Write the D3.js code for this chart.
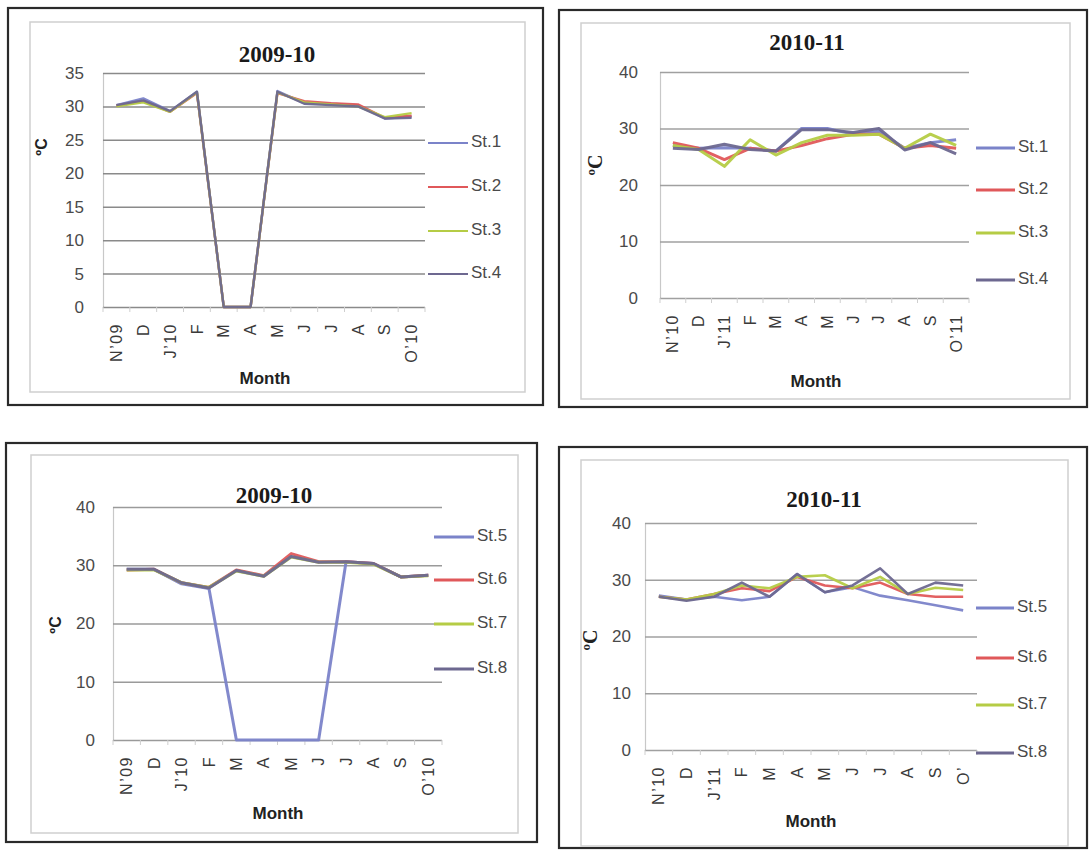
<!DOCTYPE html>
<html>
<head>
<meta charset="utf-8">
<script src="https://cdn.jsdelivr.net/npm/d3@7/dist/d3.min.js"></script>
<style>
  html, body { margin: 0; padding: 0; background: #ffffff; }
  svg { display: block; }
</style>
</head>
<body>
<svg id="chart" width="1089" height="850"></svg>
<script>
// ---------------- DATA ----------------
const months0910 = ["N’09", "D", "J’10", "F", "M", "A", "M", "J", "J", "A", "S", "O’10"];
const months1011 = ["N’10", "D", "J’11", "F", "M", "A", "M", "J", "J", "A", "S", "O’11"];
const months1011b = ["N’10", "D", "J’11", "F", "M", "A", "M", "J", "J", "A", "S", "O’"];

const stationsA = ["St.1", "St.2", "St.3", "St.4"];
const stationsB = ["St.5", "St.6", "St.7", "St.8"];

// 2009-10, stations 1-4 (°C)
const st1_0910 = [30.2, 31.2, 29.3, 32.2, 0, 0, 32.3, 30.5, 30.4, 30.2, 28.2, 28.5];
const st2_0910 = [30.1, 30.8, 29.2, 32.0, 0, 0, 32.0, 30.8, 30.5, 30.3, 28.3, 28.6];
const st3_0910 = [30.0, 30.6, 29.2, 32.1, 0, 0, 32.1, 30.6, 30.3, 30.0, 28.4, 29.0];
const st4_0910 = [30.2, 30.9, 29.3, 32.2, 0, 0, 32.2, 30.4, 30.2, 30.0, 28.2, 28.3];

// 2010-11, stations 1-4
const st1_1011 = [27.0, 26.5, 26.6, 26.5, 26.0, 30.0, 30.0, 29.0, 29.5, 26.5, 27.5, 28.0];
const st2_1011 = [27.5, 26.5, 24.5, 26.5, 26.0, 27.0, 28.2, 29.0, 29.0, 26.5, 27.0, 26.5];
const st3_1011 = [27.0, 26.3, 23.3, 28.0, 25.3, 27.5, 28.8, 28.8, 29.0, 26.5, 29.0, 27.0];
const st4_1011 = [26.5, 26.3, 27.2, 26.3, 26.0, 29.8, 29.8, 29.3, 30.0, 26.2, 27.5, 25.5];

// 2009-10, stations 5-8
const st5_0910 = [29.3, 29.3, 26.8, 26.0, 0, 0, 0, 0, 30.6, 30.3, 28.0, 28.3];
const st6_0910 = [29.2, 29.3, 27.0, 26.2, 29.2, 28.2, 32.0, 30.6, 30.6, 30.3, 28.0, 28.3];
const st7_0910 = [29.2, 29.2, 27.0, 26.2, 29.0, 28.1, 31.4, 30.5, 30.5, 30.2, 28.0, 28.2];
const st8_0910 = [29.3, 29.3, 27.0, 26.1, 29.1, 28.1, 31.5, 30.5, 30.6, 30.3, 28.0, 28.3];

// 2010-11, stations 5-8
const st5_1011 = [27.2, 26.5, 27.0, 26.4, 27.0, 31.0, 27.8, 28.7, 27.2, 26.4, 25.5, 24.6];
const st6_1011 = [27.0, 26.5, 27.5, 28.5, 28.0, 30.5, 29.0, 28.5, 29.5, 27.5, 27.0, 27.0];
const st7_1011 = [27.0, 26.5, 27.5, 29.0, 28.5, 30.5, 30.8, 28.5, 30.5, 27.5, 28.6, 28.2];
const st8_1011 = [27.0, 26.3, 27.0, 29.5, 27.0, 31.0, 27.8, 29.0, 32.0, 27.5, 29.5, 29.0];

const yTicks35 = [0, 5, 10, 15, 20, 25, 30, 35];
const yTicks40 = [0, 10, 20, 30, 40];

// ---------------- STYLE / LAYOUT ----------------
const colors = ["#7b83c9", "#e0585a", "#b5cc45", "#6d6890"];

const panels = [
  {
    title: "2009-10", labels: months0910, names: stationsA,
    series: [st1_0910, st2_0910, st3_0910, st4_0910],
    ticks: yTicks35, yMax: 35,
    outer: [8, 8, 543, 405], inner: [30, 22, 525, 392],
    x0: 103, x1: 425, yTop: 73, yBot: 307,
    tickRight: 84, titleX: 277, titleY: 57,
    ylabX: 43, ylabY: 147, ylabFont: "sans",
    legLine: [428, 468], legText: 471, legY: [143, 187, 231, 274],
    monthX: 265, monthY: 380, lineW: 2.4, legW: 2.2, gridColor: "#8a8a8a"
  },
  {
    title: "2010-11", labels: months1011, names: stationsA,
    series: [st1_1011, st2_1011, st3_1011, st4_1011],
    ticks: yTicks40, yMax: 40,
    outer: [559, 10, 1087, 407], inner: [581, 23, 1070, 399],
    x0: 660, x1: 969, yTop: 72, yBot: 298,
    tickRight: 638, titleX: 807, titleY: 45,
    ylabX: 597, ylabY: 165, ylabFont: "serif",
    legLine: [976, 1015], legText: 1018, legY: [148, 190, 233, 280],
    monthX: 816, monthY: 383, lineW: 3, legW: 3, gridColor: "#a0a0a0"
  },
  {
    title: "2009-10", labels: months0910, names: stationsB,
    series: [st5_0910, st6_0910, st7_0910, st8_0910],
    ticks: yTicks40, yMax: 40,
    outer: [6, 443, 537, 842], inner: [31, 455, 518, 833],
    x0: 113, x1: 442, yTop: 507, yBot: 740,
    tickRight: 95, titleX: 274, titleY: 498,
    ylabX: 57, ylabY: 625, ylabFont: "sans",
    legLine: [434, 474], legText: 477, legY: [537, 580, 624, 669],
    monthX: 278, monthY: 815, lineW: 3, legW: 3, gridColor: "#9a9a9a"
  },
  {
    title: "2010-11", labels: months1011b, names: stationsB,
    series: [st5_1011, st6_1011, st7_1011, st8_1011],
    ticks: yTicks40, yMax: 40,
    outer: [559, 447, 1087, 848], inner: [581, 460, 1068, 846],
    x0: 645, x1: 977, yTop: 523, yBot: 750,
    tickRight: 631, titleX: 824, titleY: 502,
    ylabX: 592, ylabY: 640, ylabFont: "serif",
    legLine: [976, 1014], legText: 1017, legY: [608, 658, 705, 753],
    monthX: 811, monthY: 823, lineW: 2.6, legW: 3, gridColor: "#a0a0a0"
  }
];

const svg = d3.select("#chart");
svg.append("rect").attr("width", 1089).attr("height", 850).attr("fill", "#ffffff");

panels.forEach(p => {
  const g = svg.append("g");

  // frames
  g.append("rect")
    .attr("x", p.outer[0]).attr("y", p.outer[1])
    .attr("width", p.outer[2] - p.outer[0]).attr("height", p.outer[3] - p.outer[1])
    .attr("fill", "#ffffff").attr("stroke", "#2a2a2a").attr("stroke-width", 2.2);
  g.append("rect")
    .attr("x", p.inner[0]).attr("y", p.inner[1])
    .attr("width", p.inner[2] - p.inner[0]).attr("height", p.inner[3] - p.inner[1])
    .attr("fill", "none").attr("stroke", "#cfcfcf").attr("stroke-width", 1.5);

  const x = d3.scaleBand().domain(d3.range(p.labels.length)).range([p.x0, p.x1]).padding(0);
  const bw = x.bandwidth();
  const y = d3.scaleLinear().domain([0, p.yMax]).range([p.yBot, p.yTop]);

  // y axis with gridlines
  const yAxis = g.append("g")
    .attr("transform", `translate(${p.x0},0)`)
    .call(d3.axisLeft(y).tickValues(p.ticks).tickSize(-(p.x1 - p.x0))
      .tickPadding(p.x0 - p.tickRight));
  yAxis.select(".domain").attr("stroke", "#c8c8c8").attr("stroke-width", 1.2);
  yAxis.selectAll(".tick line").attr("stroke", p.gridColor).attr("stroke-width", 1.5);
  yAxis.selectAll(".tick text")
    .attr("font-family", "Liberation Sans, Arial, sans-serif")
    .attr("font-size", 17).attr("fill", "#4a4a4a");

  // x axis: category labels rotated, small tick marks between categories
  const xAxis = g.append("g")
    .attr("transform", `translate(0,${p.yBot})`)
    .call(d3.axisBottom(x).tickFormat(i => p.labels[i]).tickSize(0).tickPadding(0));
  xAxis.select(".domain").remove();
  xAxis.selectAll(".tick text")
    .attr("font-family", "Liberation Sans, Arial, sans-serif")
    .attr("font-size", 16).attr("fill", "#3a3a3a")
    .attr("letter-spacing", 1.5)
    .attr("text-anchor", "end")
    .attr("dy", "0.35em")
    .attr("transform", "translate(0,16) rotate(-90)")
    .attr("y", 0).attr("x", 0);

  g.append("g").selectAll("line")
    .data(d3.range(p.labels.length + 1))
    .join("line")
    .attr("x1", i => (i < p.labels.length ? x(i) : p.x1))
    .attr("x2", i => (i < p.labels.length ? x(i) : p.x1))
    .attr("y1", p.yBot).attr("y2", p.yBot + 5)
    .attr("stroke", "#cfcfcf").attr("stroke-width", 1);

  // series lines
  const line = d3.line().x((d, i) => x(i) + bw / 2).y(d => y(d));
  p.series.forEach((s, k) => {
    g.append("path")
      .datum(s)
      .attr("d", line)
      .attr("fill", "none")
      .attr("stroke", colors[k])
      .attr("stroke-width", p.lineW)
      .attr("stroke-linejoin", "round")
      .attr("opacity", 0.95);
  });

  // title
  g.append("text")
    .attr("x", p.titleX).attr("y", p.titleY)
    .attr("text-anchor", "middle").attr("dominant-baseline", "middle")
    .attr("font-family", "Liberation Serif, Times New Roman, serif")
    .attr("font-weight", "bold").attr("font-size", 23).attr("fill", "#1a1a1a")
    .text(p.title);

  // y axis label
  g.append("text")
    .attr("transform", `translate(${p.ylabX},${p.ylabY}) rotate(-90)`)
    .attr("text-anchor", "middle").attr("dominant-baseline", "middle")
    .attr("font-family", p.ylabFont === "serif" ? "Liberation Serif, serif" : "Liberation Sans, sans-serif")
    .attr("font-weight", "bold")
    .attr("font-size", p.ylabFont === "serif" ? 20 : 16)
    .attr("fill", "#222")
    .text("ºC");

  // x axis label
  g.append("text")
    .attr("x", p.monthX).attr("y", p.monthY)
    .attr("text-anchor", "middle").attr("dominant-baseline", "middle")
    .attr("font-family", "Liberation Sans, Arial, sans-serif")
    .attr("font-weight", "bold").attr("font-size", 17).attr("fill", "#222")
    .text("Month");

  // legend
  p.names.forEach((n, k) => {
    g.append("line")
      .attr("x1", p.legLine[0]).attr("x2", p.legLine[1])
      .attr("y1", p.legY[k]).attr("y2", p.legY[k])
      .attr("stroke", colors[k]).attr("stroke-width", p.legW);
    g.append("text")
      .attr("x", p.legText).attr("y", p.legY[k])
      .attr("dominant-baseline", "middle")
      .attr("font-family", "Liberation Sans, Arial, sans-serif")
      .attr("font-size", 17).attr("fill", "#4a4a4a")
      .text(n);
  });
});
</script>
</body>
</html>
